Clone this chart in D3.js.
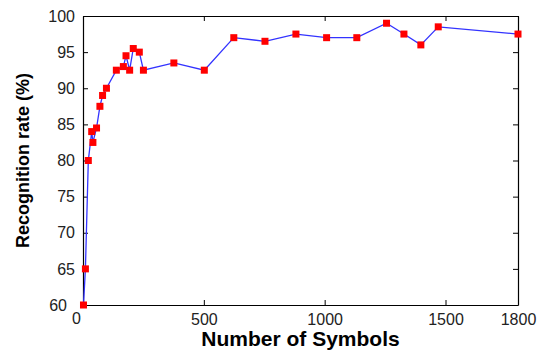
<!DOCTYPE html>
<html>
<head>
<meta charset="utf-8">
<script src="https://cdn.jsdelivr.net/npm/d3@7"></script>
<style>
  body { margin: 0; background: #fff; }
  svg { display: block; font-family: "Liberation Sans", Arial, sans-serif; }
</style>
</head>
<body>
<div id="chart"></div>
<script>
// number of symbols vs recognition rate (%)
const symbols = [2, 10, 22, 36, 41, 56, 70, 81, 97, 138, 167, 178, 193, 208, 233, 250,
  376, 502, 624, 753, 881, 1008, 1133, 1256, 1328, 1398, 1470, 1800];
const rates = [60, 65, 80, 84, 82.5, 84.5, 87.5, 89, 90, 92.5, 93, 94.5, 92.5, 95.5, 95, 92.5,
  93.5, 92.5, 97, 96.5, 97.5, 97, 97, 99, 97.5, 96, 98.5, 97.5];
const xTicks = [0, 500, 1000, 1500, 1800];
const yTicks = [60, 65, 70, 75, 80, 85, 90, 95, 100];

const w = 545;
const h = 350;
const margin = { top: 16, right: 27, bottom: 45, left: 83 };
const tickLen = 5;

const dataset = symbols.map((s, i) => ({ n: s, rate: rates[i] }));

const svg = d3.select("#chart").append("svg").attr("width", w).attr("height", h);

const xScale = d3.scaleLinear().domain([0, 1800]).range([margin.left, w - margin.right]);
const yScale = d3.scaleLinear().domain([60, 100]).range([h - margin.bottom, margin.top]);

// inward ticks on all four sides, labels only bottom/left
const bottomAxis = svg.append("g")
  .attr("transform", `translate(0,${yScale(60)})`)
  .call(d3.axisBottom(xScale).tickValues(xTicks).tickFormat(d3.format("d"))
    .tickSizeInner(-tickLen).tickSizeOuter(0).tickPadding(9));
const leftAxis = svg.append("g")
  .attr("transform", `translate(${xScale(0)},0)`)
  .call(d3.axisLeft(yScale).tickValues(yTicks).tickFormat(d3.format("d"))
    .tickSizeInner(-tickLen).tickSizeOuter(0).tickPadding(8));
svg.append("g")
  .attr("transform", `translate(0,${yScale(100)})`)
  .call(d3.axisTop(xScale).tickValues(xTicks).tickSizeInner(-tickLen).tickSizeOuter(0).tickFormat(""));
svg.append("g")
  .attr("transform", `translate(${xScale(1800)},0)`)
  .call(d3.axisRight(yScale).tickValues(yTicks).tickSizeInner(-tickLen).tickSizeOuter(0).tickFormat(""));

svg.selectAll(".domain").attr("stroke", "#000").attr("stroke-width", 1.2);
svg.selectAll(".tick line").attr("stroke", "#000");
svg.selectAll(".tick text")
  .attr("font-size", 16)
  .attr("font-family", "Liberation Sans, Arial, sans-serif")
  .attr("fill", "#222");

// the corner labels sit a little off in the original
bottomAxis.selectAll(".tick text").filter((d) => d === 0).attr("dx", -7).attr("dy", "0.6em");
leftAxis.selectAll(".tick text").filter((d) => d === 60).attr("dx", -8);

const line = d3.line()
  .x((d) => xScale(d.n))
  .y((d) => yScale(d.rate));

svg.append("path")
  .datum(dataset)
  .attr("d", line)
  .attr("fill", "none")
  .attr("stroke", "#3333ff")
  .attr("stroke-width", 1.3);

svg.selectAll("rect.marker")
  .data(dataset)
  .enter()
  .append("rect")
  .attr("class", "marker")
  .attr("x", (d) => xScale(d.n) - 3.5)
  .attr("y", (d) => yScale(d.rate) - 3.5)
  .attr("width", 7)
  .attr("height", 7)
  .style("fill", "red");

svg.append("text")
  .attr("x", (xScale(0) + xScale(1800)) / 2)
  .attr("y", 346)
  .attr("text-anchor", "middle")
  .attr("font-size", 21)
  .attr("font-weight", "bold")
  .text("Number of Symbols");

svg.append("text")
  .attr("transform", `translate(29,${(yScale(60) + yScale(100)) / 2}) rotate(-90)`)
  .attr("text-anchor", "middle")
  .attr("font-size", 18)
  .attr("font-weight", "bold")
  .text("Recognition rate (%)");
</script>
</body>
</html>
